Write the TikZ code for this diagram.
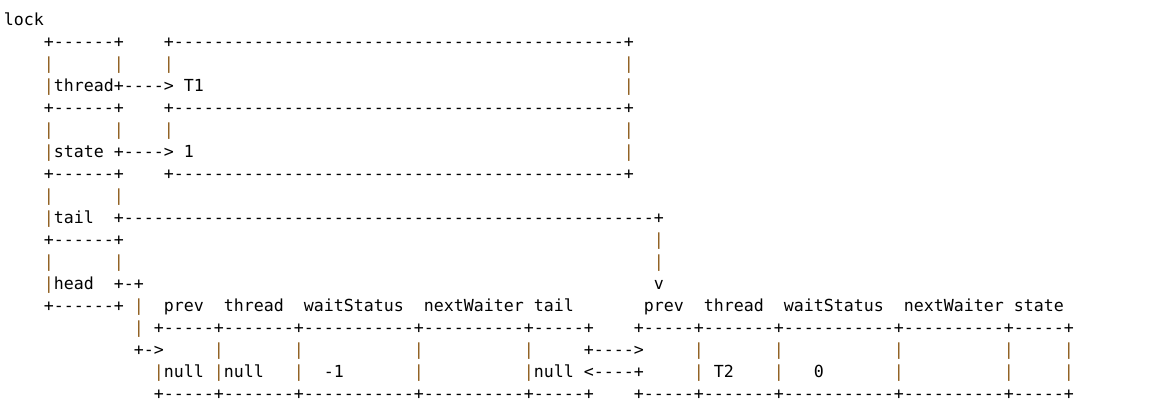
\documentclass[tikz,border=0pt]{standalone}
\usepackage{fontspec}
\setmonofont{DejaVu Sans Mono}
\usepackage{tikz}
\usepackage{xcolor}
\definecolor{barbrown}{RGB}{140,90,25}

% monospaced cells: one column = one character
\newcommand\asciifont{\ttfamily\fontsize{12.46pt}{16pt}\selectfont}
\newcommand\vb{\textcolor{barbrown}{|}}
\newcommand\dashrun[1]{\foreach\k in {1,...,#1}{-}}
\newcommand\skipcols[1]{\hskip#1\fontcharwd\font`x\relax}
\newcommand\cellrule{+\dashrun{5}+\dashrun{7}+\dashrun{11}+\dashrun{10}+\dashrun{5}+}

\begin{document}
\begin{tikzpicture}[
    x=7.5pt, y=-16.48pt,
    every node/.style={font=\asciifont, inner sep=0pt, anchor=base west},
    row/.style={text=black}
]
    \path[use as bounding box, fill=white] (-0.35,-1.174) rectangle (115.25,17.897);

    % Lock object
    \node[row] (lock) at (0,0) {lock};
    \node[row] (threadtop) at (4,1) {+\dashrun{6}+\skipcols{4}+\dashrun{45}+};
    \node[row] (threadgap) at (4,2) {\vb\skipcols{6}\vb\skipcols{4}\vb\skipcols{45}\vb};
    \node[row] (thread) at (4,3) {\vb thread+---->\skipcols{1}T1\skipcols{42}\vb};
    \node[row] (statetop) at (4,4) {+\dashrun{6}+\skipcols{4}+\dashrun{45}+};
    \node[row] (stategap) at (4,5) {\vb\skipcols{6}\vb\skipcols{4}\vb\skipcols{45}\vb};
    \node[row] (state) at (4,6) {\vb state +---->\skipcols{1}1\skipcols{43}\vb};
    \node[row] (tailtop) at (4,7) {+\dashrun{6}+\skipcols{4}+\dashrun{45}+};
    \node[row] (tailgap) at (4,8) {\vb\skipcols{6}\vb};
    \node[row] (tail) at (4,9) {\vb tail\skipcols{2}+\dashrun{53}+};
    \node[row] (headtop) at (4,10) {+\dashrun{6}+\skipcols{53}\vb};
    \node[row] (headgap) at (4,11) {\vb\skipcols{6}\vb\skipcols{53}\vb};
    \node[row] (head) at (4,12) {\vb head\skipcols{2}+-+\skipcols{51}v};

    % Waiter nodes
    \node[row] (fields) at (4,13) {+\dashrun{6}+ \vb\skipcols{2}prev\skipcols{2}thread\skipcols{2}waitStatus\skipcols{2}nextWaiter tail\skipcols{7}prev\skipcols{2}thread\skipcols{2}waitStatus\skipcols{2}nextWaiter state};
    \node[row] (celltop) at (13,14) {\vb\skipcols{1}\cellrule\skipcols{4}\cellrule};
    \node[row] (cellgap) at (13,15) {+->\skipcols{5}\vb\skipcols{7}\vb\skipcols{11}\vb\skipcols{10}\vb\skipcols{5}+---->\skipcols{5}\vb\skipcols{7}\vb\skipcols{11}\vb\skipcols{10}\vb\skipcols{5}\vb};
    \node[row] (values) at (15,16) {\vb null \vb null\skipcols{3}\vb\skipcols{2}-1\skipcols{7}\vb\skipcols{10}\vb null <----+\skipcols{5}\vb\skipcols{1}T2\skipcols{4}\vb\skipcols{3}0\skipcols{7}\vb\skipcols{10}\vb\skipcols{5}\vb};
    \node[row] (cellbottom) at (15,17) {\cellrule\skipcols{4}\cellrule};
\end{tikzpicture}
\end{document}
